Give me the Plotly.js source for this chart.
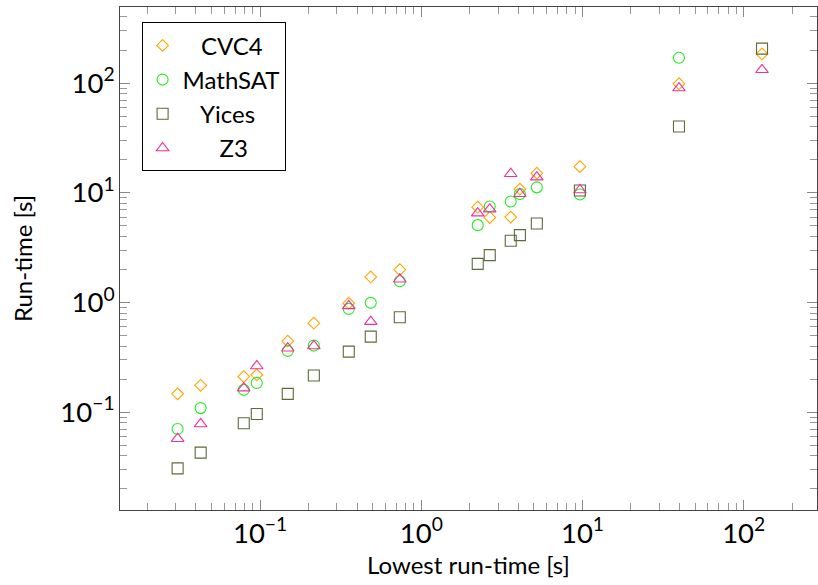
<!DOCTYPE html>
<html>
<head>
<meta charset="utf-8">
<script src="https://cdn.plot.ly/plotly-3.0.1.min.js"></script>
<style>html,body{margin:0;padding:0;background:#fff;}#chart{width:818px;height:585px;}</style>
</head>
<body>
<div id="chart"></div>
<script>
// Lowest run-time per benchmark [s]
const lowest = [0.0308, 0.0428, 0.0792, 0.0954, 0.1485, 0.2155, 0.355, 0.486, 0.736, 2.24, 2.66, 3.59, 4.09, 5.21, 9.64, 39.7, 130];
// Run-times per solver [s]
const cvc4    = [0.147, 0.176, 0.211, 0.219, 0.444, 0.648, 0.986, 1.71, 1.99, 7.39, 5.95, 6.00, 10.8, 15.1, 17.3, 98.6, 184];
const mathsat = [0.0704, 0.109, 0.160, 0.185, 0.362, 0.405, 0.874, 0.993, 1.56, 5.07, 7.50, 8.32, 9.73, 11.2, 9.64, 170, null];
const yices   = [0.0308, 0.0428, 0.0794, 0.0965, 0.147, 0.216, 0.357, 0.489, 0.734, 2.25, 2.70, 3.65, 4.11, 5.25, 10.5, 40.2, 206];
const z3      = [0.0574, 0.0782, 0.166, 0.264, 0.383, 0.402, 0.931, 0.670, 1.63, 6.53, 7.10, 14.9, 9.8, 13.9, 10.6, 90, 132];
const seriesNames = ['CVC4', 'MathSAT', 'Yices', 'Z3'];
const xTitle = 'Lowest run-time [s]';
const yTitle = 'Run-time [s]';
const tickAlias = {'1': '10<sup>0</sup>', '10': '10<sup>1</sup>'};

const FONT = 'Lato, "Open Sans", sans-serif';
const values = [cvc4, mathsat, yices, z3];
const symbols = ['diamond-open', 'circle-open', 'square-open', 'triangle-up-open'];
const colors = ['#ffa500', '#22ee22', '#5b6b3a', '#f0309a'];
const sizes = [9, 11, 11, 11];
// leading no-break spaces emulate the centred legend labels of the original
const legendPad = [3, 0, 3, 6];

const traces = values.map((v, i) => ({
  type: 'scatter', mode: 'markers', x: lowest, y: v,
  name: '\u00a0'.repeat(legendPad[i]) + seriesNames[i],
  legendgroup: 'g' + i,
  marker: {symbol: symbols[i], size: sizes[i], color: colors[i], line: {width: 1.1, color: colors[i]}},
  cliponaxis: false
}));

function axis(range, title, standoff) {
  return {
    type: 'log', range: range, dtick: 1, exponentformat: 'power', labelalias: tickAlias,
    showgrid: false, zeroline: false,
    showline: true, linecolor: '#444', linewidth: 1, mirror: 'ticks',
    ticks: 'inside', ticklen: 10, tickcolor: '#888', tickwidth: 1,
    minor: {ticks: 'inside', ticklen: 7, tickcolor: '#999', tickwidth: 1, showgrid: false},
    tickfont: {family: FONT, size: 22, color: '#000'},
    title: {text: title, font: {family: FONT, size: 24, color: '#000'}, standoff: standoff}
  };
}

const layout = {
  width: 818, height: 585,
  margin: {l: 120, r: 1, t: 7, b: 75},
  paper_bgcolor: '#fff', plot_bgcolor: '#fff',
  font: {family: FONT, color: '#000'},
  xaxis: axis([-1.869, 2.455], xTitle, 9),
  yaxis: axis([-1.891, 2.693], yTitle, 20),
  showlegend: true,
  legend: {
    x: 0.031, y: 0.9696, xanchor: 'left', yanchor: 'top',
    bordercolor: '#000', borderwidth: 1, bgcolor: '#fff',
    font: {family: FONT, size: 24, color: '#000'},
    traceorder: 'grouped', tracegroupgap: 0, itemwidth: 30
  }
};

Plotly.newPlot('chart', traces, layout, {staticPlot: true, displayModeBar: false});
</script>
</body>
</html>
